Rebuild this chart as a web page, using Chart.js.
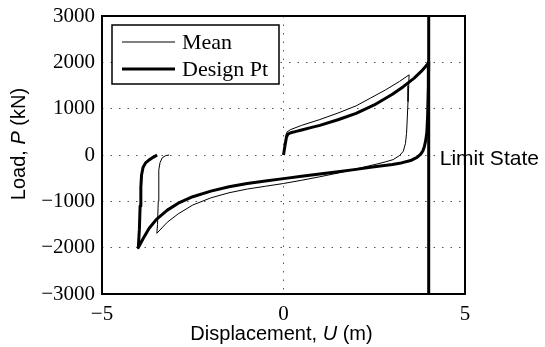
<!DOCTYPE html>
<html>
<head>
<meta charset="utf-8">
<title>Load-displacement response</title>
<script src="https://cdn.jsdelivr.net/npm/chart.js@4.4.1/dist/chart.umd.min.js"></script>
<style>
  html, body { margin: 0; padding: 0; background: #fff; }
  #wrap { width: 545px; height: 347px; }
</style>
</head>
<body>
<div id="wrap"><canvas id="loadChart" width="545" height="347"></canvas></div>
<script>
// displacement U (m) and load P (kN) along the mean-parameter path
var meanU = [0, 0.04, 0.07, 0.1, 0.2, 0.5, 1.0, 1.5, 2.0, 2.4, 2.8, 3.2, 3.46,
    3.45, 3.43, 3.41, 3.39, 3.36, 3.3, 3.2, 3.02, 2.8, 2.6, 2.0, 1.5, 1.0, 0.5, 0,
    -0.5, -1.0, -1.5, -2.0, -2.5, -2.9, -3.2, -3.49,
    -3.47, -3.45, -3.44, -3.43, -3.4, -3.34, -3.25, -3.15];
var meanP = [0, 250, 440, 500, 550, 640, 765, 905, 1060, 1230, 1400, 1590, 1730,
    1500, 1150, 800, 470, 250, 80, -10, -100, -150, -190, -300, -390, -470, -545, -615,
    -675, -735, -815, -925, -1080, -1270, -1450, -1690,
    -1500, -1000, -600, -320, -160, -60, -15, 0];

// same response at the design point
var designU = [0, 0.04, 0.08, 0.12, 0.2, 0.35, 0.5, 0.75, 1.0, 1.5, 2.0, 2.5, 3.0, 3.3, 3.6, 3.8, 3.95, 4.0,
    3.99, 3.97, 3.95, 3.92, 3.88, 3.84, 3.78, 3.68, 3.5, 3.2, 3.0, 2.5, 2.0, 1.5, 1.0, 0.5, 0,
    -0.5, -1.0, -1.5, -2.0, -2.5, -2.9, -3.2, -3.5, -3.7, -3.85, -4.0,
    -3.97, -3.95, -3.93, -3.91, -3.87, -3.8, -3.7, -3.58, -3.48];
var designP = [0, 200, 380, 450, 480, 510, 540, 590, 640, 760, 900, 1080, 1310, 1475, 1660, 1810, 1940, 2000,
    1500, 830, 500, 320, 180, 90, 20, -50, -120, -180, -205, -255, -310, -360, -410, -460, -510,
    -560, -615, -685, -780, -900, -1040, -1190, -1390, -1580, -1780, -2000,
    -1600, -1100, -700, -430, -270, -170, -105, -45, 0];

// limit state displacement
var limitU = [4, 4];
var limitP = [-3000, 3000];

var xTicks = [-5, 0, 5];
var yTicks = [-3000, -2000, -1000, 0, 1000, 2000, 3000];

function toPoints(us, ps) {
    return us.map(function (u, i) { return { x: u, y: ps[i] }; });
}

function fmt(v) {
    return v < 0 ? "\u2212" + Math.abs(v) : String(v);
}

// draws a run of text pieces with different fonts, centred on x
function drawRich(ctx, parts, x, y) {
    var total = 0;
    parts.forEach(function (p) { ctx.font = p.font; total += ctx.measureText(p.text).width; });
    var cx = x - total / 2;
    parts.forEach(function (p) {
        ctx.font = p.font;
        ctx.fillText(p.text, cx, y);
        cx += ctx.measureText(p.text).width;
    });
}

var sans = "20px 'Liberation Sans', Arial, sans-serif";
var sansIt = "italic 20px 'Liberation Sans', Arial, sans-serif";
var serif = "'Liberation Serif', 'Times New Roman', serif";

var decorations = {
    id: "decorations",
    afterDatasetsDraw: function (chart) {
        var ctx = chart.ctx, a = chart.chartArea;
        ctx.save();
        ctx.strokeStyle = "#000";
        ctx.lineWidth = 2;
        ctx.strokeRect(a.left, a.top, a.right - a.left, a.bottom - a.top);
        ctx.restore();
    },
    afterDraw: function (chart) {
        var ctx = chart.ctx, a = chart.chartArea;
        var xs = chart.scales.x, ys = chart.scales.y;
        ctx.save();
        ctx.fillStyle = "#000";
        ctx.textBaseline = "alphabetic";

        // axis titles
        drawRich(ctx, [
            { text: "Displacement, ", font: sans },
            { text: "U", font: sansIt },
            { text: " (m)", font: sans }
        ], (a.left + a.right) / 2 - 2, a.bottom + 46);

        ctx.save();
        ctx.translate(25, a.top + 128);
        ctx.rotate(-Math.PI / 2);
        drawRich(ctx, [
            { text: "Load, ", font: sans },
            { text: "P", font: sansIt },
            { text: " (kN)", font: sans }
        ], 0, 0);
        ctx.restore();

        // label next to the limit line
        ctx.font = "21px 'Liberation Sans', Arial, sans-serif";
        ctx.textAlign = "left";
        ctx.fillText("Limit State", xs.getPixelForValue(limitU[0]) + 11, ys.getPixelForValue(0) + 10);

        // boxed legend in the upper left corner
        var bx = a.left + 10, by = a.top + 9, bw = 167, bh = 59;
        ctx.fillStyle = "#fff";
        ctx.fillRect(bx, by, bw, bh);
        ctx.strokeStyle = "#000";
        ctx.lineWidth = 1.5;
        ctx.strokeRect(bx, by, bw, bh);
        ctx.fillStyle = "#000";
        ctx.font = "22px " + serif;
        chart.data.datasets.slice(0, 2).forEach(function (ds, i) {
            var ly = by + 17 + i * 27;
            ctx.beginPath();
            ctx.lineWidth = ds.borderWidth;
            ctx.moveTo(bx + 10, ly);
            ctx.lineTo(bx + 63, ly);
            ctx.stroke();
            ctx.fillText(ds.label, bx + 70, ly + 7);
        });
        ctx.restore();
    }
};

var dotted = { display: false, dash: [1.5, 7] };

new Chart(document.getElementById("loadChart"), {
    type: "line",
    data: {
        datasets: [
            {
                label: "Mean",
                data: toPoints(meanU, meanP),
                borderColor: "#000",
                borderWidth: 1,
                borderJoinStyle: "round",
                pointRadius: 0,
                tension: 0
            },
            {
                label: "Design Pt",
                data: toPoints(designU, designP),
                borderColor: "#000",
                borderWidth: 3,
                borderJoinStyle: "round",
                pointRadius: 0,
                tension: 0
            },
            {
                label: "Limit State",
                data: toPoints(limitU, limitP),
                borderColor: "#000",
                borderWidth: 3,
                pointRadius: 0
            }
        ]
    },
    options: {
        responsive: false,
        animation: false,
        devicePixelRatio: 1,
        layout: { padding: { left: 0, top: 16, right: 80, bottom: 0 } },
        plugins: {
            legend: { display: false },
            tooltip: { enabled: false }
        },
        scales: {
            x: {
                type: "linear",
                min: -5,
                max: 5,
                afterBuildTicks: function (s) { s.ticks = xTicks.map(function (v) { return { value: v }; }); },
                afterFit: function (s) { s.height = 53; s.paddingLeft = 0; s.paddingRight = 0; },
                border: dotted,
                grid: { color: "#555", lineWidth: 1, drawTicks: false },
                ticks: {
                    padding: 8,
                    color: "#000",
                    maxRotation: 0,
                    font: { family: serif, size: 21 },
                    callback: fmt
                }
            },
            y: {
                type: "linear",
                min: -3000,
                max: 3000,
                afterBuildTicks: function (s) { s.ticks = yTicks.map(function (v) { return { value: v }; }); },
                afterFit: function (s) { s.width = 102; s.paddingTop = 0; s.paddingBottom = 0; },
                border: dotted,
                grid: { color: "#555", lineWidth: 1, drawTicks: false },
                ticks: {
                    padding: 7,
                    color: "#000",
                    font: { family: serif, size: 21 },
                    callback: fmt
                }
            }
        }
    },
    plugins: [decorations]
});
</script>
</body>
</html>
